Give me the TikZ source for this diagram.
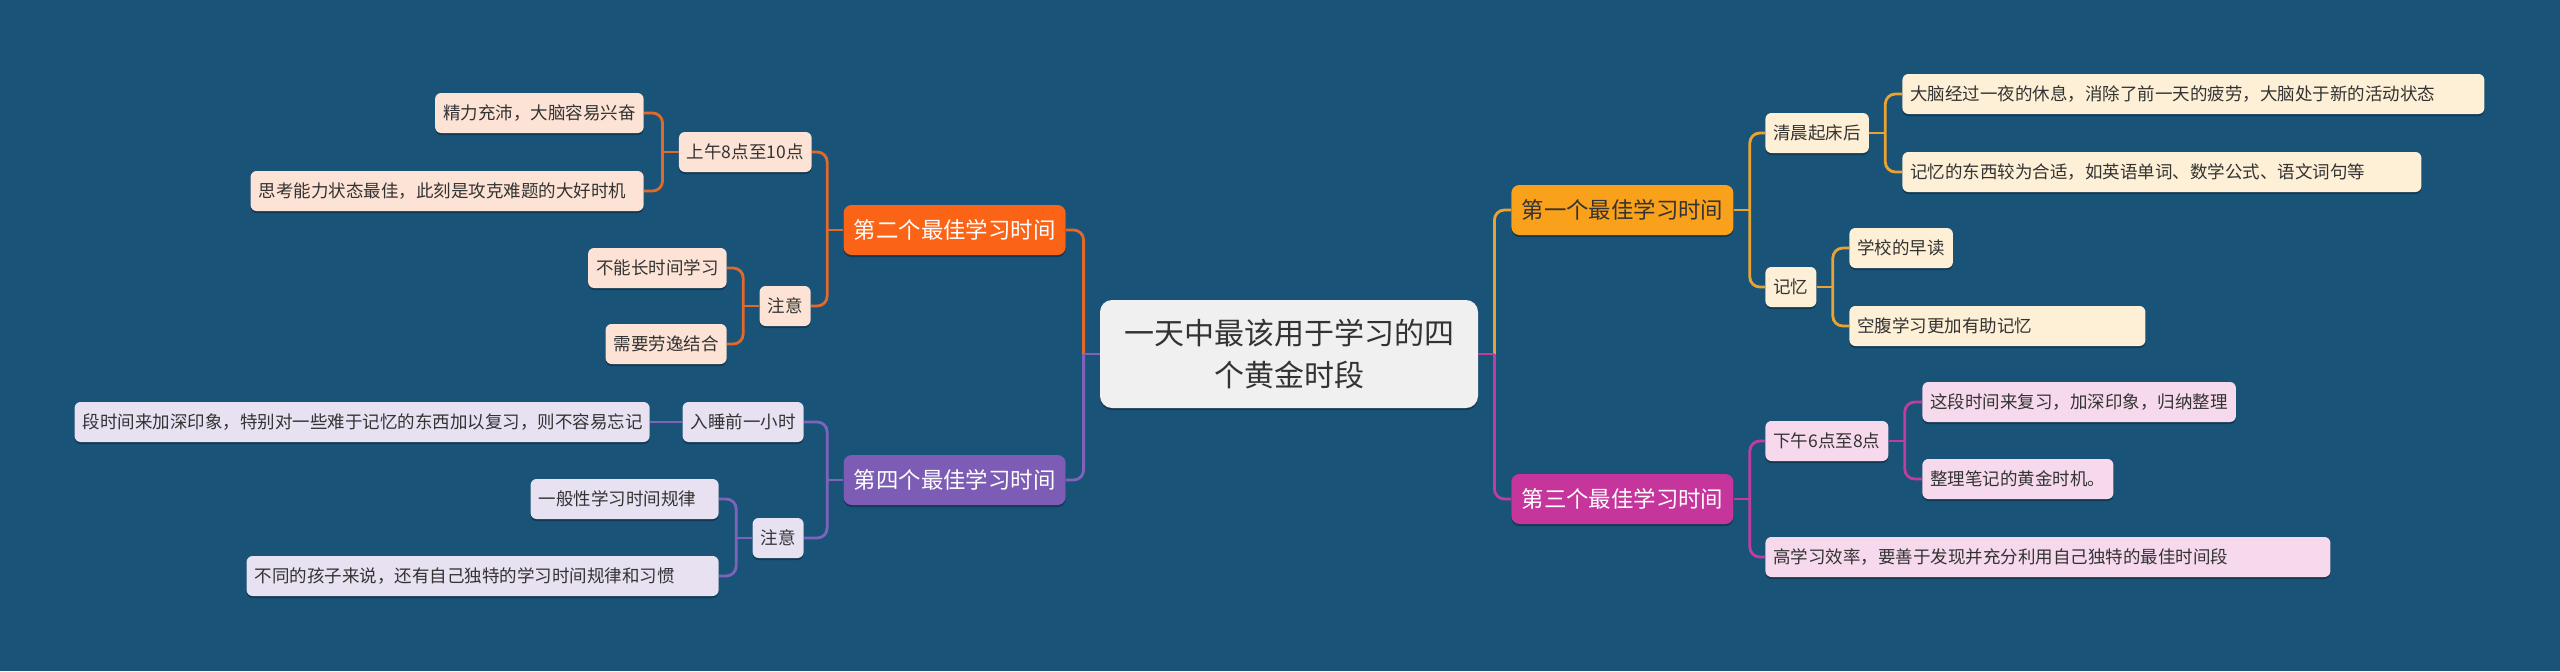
\documentclass[tikz,border=0pt]{standalone}
\usepackage{fontspec}
\setmainfont{Noto Sans CJK SC}
\usetikzlibrary{shadows}

\definecolor{nen}{HTML}{195378}
\definecolor{xam}{HTML}{F0F0F0}
\definecolor{chu}{HTML}{333333}
\definecolor{cam}{HTML}{FB6316}
\definecolor{camnhat}{HTML}{FDE3D5}
\definecolor{camday}{HTML}{E3692B}
\definecolor{vang}{HTML}{F9A11A}
\definecolor{vangnhat}{HTML}{FEF0D6}
\definecolor{vangday}{HTML}{EAA332}
\definecolor{hong}{HTML}{C6359B}
\definecolor{hongnhat}{HTML}{F6D9EC}
\definecolor{hongday}{HTML}{C23C9D}
\definecolor{tim}{HTML}{7C5CB4}
\definecolor{timnhat}{HTML}{E7E1F2}
\definecolor{timday}{HTML}{7E63BA}

\tikzset{
  box/.style={drop shadow={shadow xshift=0pt,shadow yshift=-1pt,opacity=.3,fill=black}},
  root/.style={box,fill=xam,text=chu,rounded corners=6pt,align=center,
    minimum width=189pt,minimum height=54pt,font=\fontsize{15}{21}\selectfont},
  branch/.style={box,rounded corners=4pt,minimum width=111pt,minimum height=25pt,
    inner xsep=5pt,font=\fontsize{11.2}{13}\selectfont},
  leaf/.style={box,rounded corners=3pt,text=chu,minimum height=20pt,inner xsep=4pt,
    inner ysep=0pt,align=left,font=\fontsize{8.75}{10}\selectfont},
  link/.style={line width=1.4pt,rounded corners=5pt},
}

\begin{document}
\begin{tikzpicture}[x=0.5pt,y=-0.5pt]
    % Nền
    \fill[nen] (0,0) rectangle (2560,671);
    \useasboundingbox (0,0) rectangle (2560,671);

    % Nút trung tâm
    \node[root] (root) at (1289,354) {一天中最该用于学习的四\\个黄金时段};

    % Bốn nhánh chính
    \node[branch,fill=vang,text=chu,anchor=west] (b1) at (1511,210) {第一个最佳学习时间};
    \node[branch,fill=cam,text=white,anchor=east] (b2) at (1066,230) {第二个最佳学习时间};
    \node[branch,fill=hong,text=white,anchor=west] (b3) at (1511,499) {第三个最佳学习时间};
    \node[branch,fill=tim,text=white,anchor=east] (b4) at (1066,480) {第四个最佳学习时间};

    % Nhánh 1
    \node[leaf,fill=vangnhat,anchor=west] (b1a) at (1765,133) {清晨起床后};
    \node[leaf,fill=vangnhat,anchor=west] (b1b) at (1765,287) {记忆};
    \node[leaf,fill=vangnhat,anchor=west,text width=283pt] (b1a1) at (1902,94) {大脑经过一夜的休息，消除了前一天的疲劳，大脑处于新的活动状态};
    \node[leaf,fill=vangnhat,anchor=west,text width=251.5pt] (b1a2) at (1902,172) {记忆的东西较为合适，如英语单词、数学公式、语文词句等};
    \node[leaf,fill=vangnhat,anchor=west] (b1b1) at (1849,248) {学校的早读};
    \node[leaf,fill=vangnhat,anchor=west,text width=140pt] (b1b2) at (1849,326) {空腹学习更加有助记忆};

    % Nhánh 2
    \node[leaf,fill=camnhat,anchor=east] (b2a) at (812,152) {上午8点至10点};
    \node[leaf,fill=camnhat,anchor=east] (b2b) at (811,306) {注意};
    \node[leaf,fill=camnhat,anchor=east] (b2a1) at (644,113) {精力充沛，大脑容易兴奋};
    \node[leaf,fill=camnhat,anchor=east,text width=188.5pt] (b2a2) at (644,191) {思考能力状态最佳，此刻是攻克难题的大好时机};
    \node[leaf,fill=camnhat,anchor=east] (b2b1) at (727,268) {不能长时间学习};
    \node[leaf,fill=camnhat,anchor=east] (b2b2) at (727,344) {需要劳逸结合};

    % Nhánh 3
    \node[leaf,fill=hongnhat,anchor=west] (b3a) at (1765,441) {下午6点至8点};
    \node[leaf,fill=hongnhat,anchor=west,text width=274.5pt] (b3b) at (1765,557) {高学习效率，要善于发现并充分利用自己独特的最佳时间段};
    \node[leaf,fill=hongnhat,anchor=west] (b3a1) at (1922,402) {这段时间来复习，加深印象，归纳整理};
    \node[leaf,fill=hongnhat,anchor=west] (b3a2) at (1922,479) {整理笔记的黄金时机。};

    % Nhánh 4
    \node[leaf,fill=timnhat,anchor=east] (b4a) at (804,422) {入睡前一小时};
    \node[leaf,fill=timnhat,anchor=east] (b4b) at (804,538) {注意};
    \node[leaf,fill=timnhat,anchor=east,text width=279.5pt] (b4a1) at (650,422) {段时间来加深印象，特别对一些难于记忆的东西加以复习，则不容易忘记};
    \node[leaf,fill=timnhat,anchor=east,text width=86pt] (b4b1) at (719,499) {一般性学习时间规律};
    \node[leaf,fill=timnhat,anchor=east,text width=228pt] (b4b2) at (719,576) {不同的孩子来说，还有自己独特的学习时间规律和习惯};

    % Đường nối từ nút trung tâm
    \path (root.west) ++(-16,0) coordinate (jl);
    \path (root.east) ++(16,0) coordinate (jr);
    \draw[link,camday] (jl) |- (b2.east);
    \draw[link,timday] (jl) |- (b4.east);
    \draw[link,timday] (root.west) -- (jl);
    \draw[link,vangday] (jr) |- (b1.west);
    \draw[link,hongday] (jr) |- (b3.west);
    \draw[link,hongday] (root.east) -- (jr);

    % Đường nối bên phải
    \foreach \p/\c/\k in {b1/vangday/{b1a,b1b},b1a/vangday/{b1a1,b1a2},b1b/vangday/{b1b1,b1b2},
                          b3/hongday/{b3a,b3b},b3a/hongday/{b3a1,b3a2}} {
      \path (\p.east) ++(16,0) coordinate (j);
      \draw[link,\c] (\p.east) -- (j);
      \foreach \n in \k \draw[link,\c] (j) |- (\n.west);
    }

    % Đường nối bên trái
    \foreach \p/\c/\k in {b2/camday/{b2a,b2b},b2a/camday/{b2a1,b2a2},b2b/camday/{b2b1,b2b2},
                          b4/timday/{b4a,b4b},b4b/timday/{b4b1,b4b2}} {
      \path (\p.west) ++(-16,0) coordinate (j);
      \draw[link,\c] (\p.west) -- (j);
      \foreach \n in \k \draw[link,\c] (j) |- (\n.east);
    }
    \draw[link,timday] (b4a.west) -- (b4a1.east);
\end{tikzpicture}
\end{document}
